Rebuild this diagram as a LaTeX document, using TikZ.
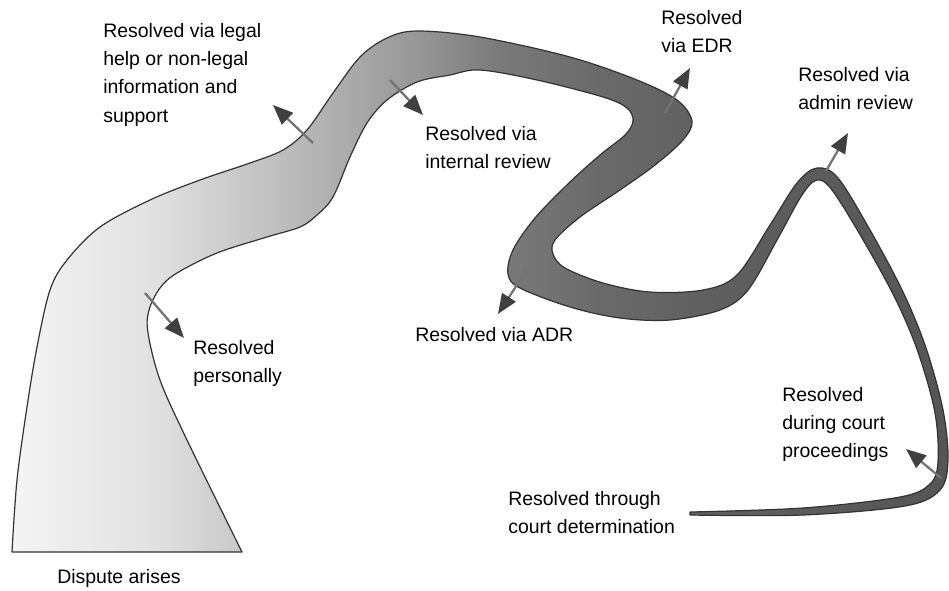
\documentclass[tikz,border=0pt]{standalone}
\usepackage{fontspec}
\setmainfont{Liberation Sans}
\usetikzlibrary{arrows.meta}

\definecolor{bankA}{HTML}{F4F4F4}
\definecolor{bankB}{HTML}{E2E2E2}
\definecolor{bankC}{HTML}{B8B8B8}
\definecolor{bankD}{HTML}{969696}
\definecolor{bankE}{HTML}{7A7A7A}
\definecolor{bankF}{HTML}{6A6A6A}
\definecolor{bankG}{HTML}{606060}
\definecolor{bankH}{HTML}{555555}
\pgfdeclarehorizontalshading{riverfade}{100bp}{color(0bp)=(bankA); color(25bp)=(bankA);
  color(32.4bp)=(bankB); color(40.4bp)=(bankC); color(46.8bp)=(bankD);
  color(51bp)=(bankE); color(56.4bp)=(bankF); color(61.7bp)=(bankG);
  color(75bp)=(bankH); color(100bp)=(bankH)}

\begin{document}
\begin{tikzpicture}[x=0.75pt, y=-0.75pt,
  lbl/.style={font=\fontsize{14.6}{21.2}\selectfont, align=left, inner sep=0pt, anchor=north west},
  outarrow/.style={draw=black!55, line width=1.7pt,
    -{Triangle[length=15pt, width=12pt, color=black!75]}},
]
  \useasboundingbox (0,0) rectangle (949,590);

  % the river, wide where the dispute arises, thin at the court
  \path[shading=riverfade, draw=black!80, line width=0.9pt, line join=round]
    plot[smooth, tension=0.55] coordinates {(12,552) (17,480) (27,407) (37,347)
      (50,290) (67,260) (100,227) (150,200) (200,180) (250,163) (283,150)
      (307,130) (333,93) (360,57) (387,38) (417,31) (480,37) (570,57) (637,80)
      (677,100) (692,121) (683,140) (655,165) (620,190) (580,217) (555,240)
      (553,254) (565,268) (603,283) (650,292) (703,290) (737,275) (770,225)
      (797,183) (817,168) (838,178) (870,230) (903,292) (926,348) (943,410)
      (948,460) (940,490) (905,506) (803,515) (690,515)}
    -- plot[smooth, tension=0.55] coordinates {(690,512) (803,508) (900,497)
      (930,484) (938,462) (935,413) (918,352) (895,298) (862,238) (832,190)
      (817,180) (802,195) (777,240) (748,290) (720,310) (670,320) (620,318)
      (570,307) (520,288) (508,274) (513,250) (535,218) (570,182) (600,155)
      (625,135) (633,121) (627,108) (603,97) (537,80) (480,70) (450,75)
      (417,82) (387,100) (367,123) (350,157) (333,197) (317,215) (300,227)
      (267,237) (217,253) (177,273) (160,288) (149,310) (148,333) (160,380)
      (187,440) (242,552)}
    -- cycle;

  % where a dispute leaves the river
  \coordinate (legalS) at (313,143);    \coordinate (legalE) at (273,105);
  \coordinate (internalS) at (390,80);  \coordinate (internalE) at (423,115);
  \coordinate (edrS) at (665,113);      \coordinate (edrE) at (690,68);
  \coordinate (adminS) at (826,171);    \coordinate (adminE) at (848,133);
  \coordinate (adrS) at (526,271);      \coordinate (adrE) at (498,314);
  \coordinate (personalS) at (145,293); \coordinate (personalE) at (184,338);
  \coordinate (courtS) at (941,478);    \coordinate (courtE) at (906,449);
  \foreach \s/\e in {legalS/legalE, internalS/internalE, edrS/edrE, adminS/adminE,
      adrS/adrE, personalS/personalE, courtS/courtE}
    \draw[outarrow] (\s) -- (\e);

  \node[lbl] (legal) at (103,23) {Resolved via legal\\help or non-legal\\information and\\support};
  \node[lbl] (internal) at (425,126) {Resolved via\\internal review};
  \node[lbl] (edr) at (661,10) {Resolved\\via EDR};
  \node[lbl] (admin) at (798,67) {Resolved via\\admin review};
  \node[lbl] (adr) at (415,327) {Resolved via ADR};
  \node[lbl] (personal) at (193,340) {Resolved\\personally};
  \node[lbl] (proceedings) at (782,387) {Resolved\\during court\\proceedings};
  \node[lbl] (determination) at (508,491) {Resolved through\\court determination};
  \node[lbl] (dispute) at (57,569) {Dispute arises};
\end{tikzpicture}
\end{document}
